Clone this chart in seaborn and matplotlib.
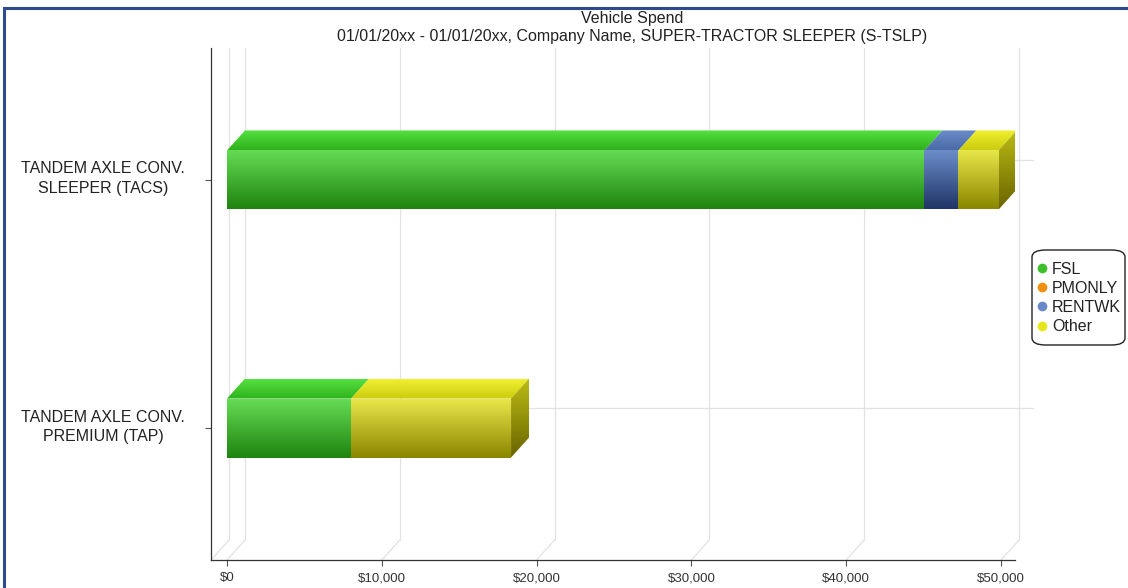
import numpy as np
import pandas as pd
import matplotlib
matplotlib.use('Agg')
import matplotlib.pyplot as plt
import seaborn as sns
from matplotlib.colors import LinearSegmentedColormap
from matplotlib.patches import Polygon, Rectangle, FancyBboxPatch
from matplotlib.lines import Line2D

# data
categories = ["TANDEM AXLE CONV.\nSLEEPER (TACS)", "TANDEM AXLE CONV.\nPREMIUM (TAP)"]
series_names = ["FSL", "PMONLY", "RENTWK", "Other"]
fsl = [45050, 8020]
pmonly = [0, 0]
rentwk = [2200, 0]
other = [2600, 10330]
x_ticks = [0, 10000, 20000, 30000, 40000, 50000]
x_tick_labels = ["$0", "$10,000", "$20,000", "$30,000", "$40,000", "$50,000"]
title = "Vehicle Spend"
subtitle = "01/01/20xx - 01/01/20xx, Company Name, SUPER-TRACTOR SLEEPER (S-TSLP)"

legend_colors = {"FSL": "#3cbf2a", "PMONLY": "#f0900f", "RENTWK": "#6888c8", "Other": "#e6e61a"}
# front top, front bottom, roof back, roof front, side top, side bottom
shades = {
    "FSL": ["#66dd55", "#1f8410", "#55e040", "#2fb21c", "#2fa020", "#1a700c"],
    "PMONLY": ["#f8b050", "#b86000", "#f8b050", "#e08010", "#c07010", "#804000"],
    "RENTWK": ["#6c8ecb", "#203566", "#6a8cc8", "#4a6aa8", "#3d5a96", "#1c2c58"],
    "Other": ["#e8e84a", "#8a8600", "#f0f030", "#cccc10", "#bcbc14", "#6a6400"],
}

df = pd.DataFrame({"category": categories, "FSL": fsl, "PMONLY": pmonly,
                   "RENTWK": rentwk, "Other": other})

W, H = 1128, 588
fig = plt.figure(figsize=(W / 100, H / 100), dpi=100)
sns.set_style("white")
plt.rcParams['font.family'] = ['Liberation Sans', 'DejaVu Sans']

ax_l, ax_r, ax_t, ax_b = 211, 1015, 48, 560
ax = fig.add_axes([ax_l / W, 1 - ax_b / H, (ax_r - ax_l) / W, (ax_b - ax_t) / H])

bar_h = 0.238
left = np.zeros(len(df))
segments = []  # (series, row, patch)
for name in series_names:
    n_before = len(ax.patches)
    sns.barplot(data=df, x=name, y="category", orient="h", color=legend_colors[name],
                width=bar_h, ax=ax, zorder=3)
    new = ax.patches[n_before:]
    for i, p in enumerate(new):
        p.set_x(left[i])
        p.set_linewidth(0)
        segments.append((name, i, p))
    left = left + df[name].to_numpy()

xmin, xmax = -1034, 50906
ymin, ymax = -0.532, 1.532
ax.set_xlim(xmin, xmax)
ax.set_ylim(ymax, ymin)

# depth of the 3D effect, in data units
dx = 18 * (xmax - xmin) / (ax_r - ax_l)
dy = 20 * (ymax - ymin) / (ax_b - ax_t)


def grad(extent, c_top, c_bot, clip, z):
    cmap = LinearSegmentedColormap.from_list("g", [c_top, c_bot])
    im = ax.imshow(np.linspace(0, 1, 64).reshape(-1, 1), cmap=cmap, aspect="auto",
                   extent=extent, origin="upper", zorder=z, interpolation="bilinear")
    im.set_clip_path(clip)


last_seg = {}
for name, i, p in segments:
    if p.get_width() > 0:
        last_seg[i] = (name, p)

for name, i, p in segments:
    w = p.get_width()
    if w <= 0:
        continue
    x0, y0, h = p.get_x(), p.get_y(), p.get_height()
    x1 = x0 + w
    c = shades[name]
    p.set_facecolor("none")
    grad((x0, x1, y0 + h, y0), c[0], c[1], p, 3)
    roof = Polygon([(x0, y0), (x1, y0), (x1 + dx, y0 - dy), (x0 + dx, y0 - dy)],
                   closed=True, fc="none", ec="none", zorder=3)
    ax.add_patch(roof)
    grad((x0, x1 + dx, y0, y0 - dy), c[2], c[3], roof, 3)

for i, (name, p) in last_seg.items():
    x1 = p.get_x() + p.get_width()
    y0, h = p.get_y(), p.get_height()
    c = shades[name]
    side = Polygon([(x1, y0), (x1 + dx, y0 - dy), (x1 + dx, y0 + h - dy), (x1, y0 + h)],
                   closed=True, fc="none", ec="none", zorder=3)
    ax.add_patch(side)
    grad((x1, x1 + dx, y0 + h, y0 - dy), c[4], c[5], side, 3)

ax.set_xlim(xmin, xmax)
ax.set_ylim(ymax, ymin)

# back-wall grid and floor lines
gc = "#e2e2e2"
for t in [xmin] + x_ticks:
    ax.add_line(Line2D([t + dx, t + dx], [ymin, ymax - dy], color=gc, lw=0.9, zorder=1, clip_on=False))
    ax.add_line(Line2D([t, t + dx], [ymax, ymax - dy], color=gc, lw=0.9, zorder=1, clip_on=False))
for k in range(len(categories)):
    ax.add_line(Line2D([xmin + dx, xmax + dx], [k - dy, k - dy], color=gc, lw=0.9, zorder=1, clip_on=False))

sns.despine(ax=ax, top=True, right=True)
for s in ["left", "bottom"]:
    ax.spines[s].set_color("#333333")
    ax.spines[s].set_linewidth(0.9)
ax.set_xticks(x_ticks)
ax.set_xticklabels(x_tick_labels, fontsize=9.5, color="#333333")
ax.set_yticks(range(len(categories)))
ax.set_yticklabels([""] * len(categories))
for k, cat in enumerate(categories):
    ax.annotate(cat, xy=(0, k), xycoords=("axes fraction", "data"),
                xytext=(-18.7, 0.8), textcoords="offset points", ha="right", va="center",
                multialignment="center", linespacing=1.4, fontsize=11.5, color="#222222")
ax.tick_params(axis="x", length=4, width=0.8, color="#555555", pad=5, bottom=True)
ax.tick_params(axis="y", length=4, width=0.8, color="#555555", left=True)
ax.set_xlabel("")
ax.set_ylabel("")
ax.grid(False)

fig.text(632 / W, 1 - 18 / H, title, ha="center", va="center", fontsize=11.5, color="#222222")
fig.text(632 / W, 1 - 37 / H, subtitle, ha="center", va="center", fontsize=11.5, color="#222222")

# legend box drawn separately so its padding can match the reference
fig.add_artist(FancyBboxPatch((1032 / W, 1 - 345 / H), 93 / W, 95 / H,
                              boxstyle="round,pad=0,rounding_size=0.012",
                              transform=fig.transFigure, fc="white", ec="#222222", lw=1.0))
handles = [Line2D([], [], marker="o", ls="none", markersize=7, markerfacecolor=legend_colors[n],
                  markeredgecolor="none") for n in series_names]
leg = fig.legend(handles, series_names, loc="center left", bbox_to_anchor=(1037 / W, 1 - 298 / H),
                 fontsize=11.5, frameon=False, handlelength=0.6, handletextpad=0.35,
                 labelspacing=0.26, borderpad=0, borderaxespad=0)
for t in leg.get_texts():
    t.set_color("#222222")

# outer navy frame
fig.add_artist(Rectangle((4 / W, -0.1), 1.2, 1 - 8 / H + 0.1, transform=fig.transFigure,
                         fill=False, ec="#2c4a8e", lw=2.2))

fig.savefig("out.png", dpi=100)
